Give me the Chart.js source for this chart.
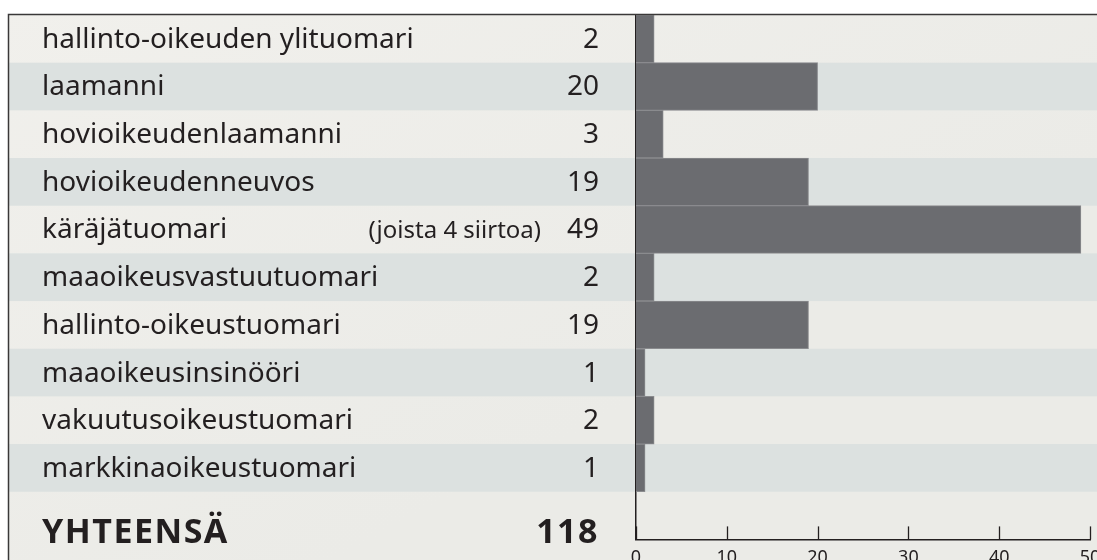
<!DOCTYPE html>
<html>
<head>
<meta charset="utf-8">
<script src="https://cdn.jsdelivr.net/npm/chart.js@4.4.1/dist/chart.umd.min.js"></script>
<style>
  html, body { margin: 0; padding: 0; background: #ffffff; overflow: hidden; }
  #wrap { position: relative; width: 1097px; height: 560px; overflow: hidden; }
  canvas { display: block; }
</style>
</head>
<body>
<div id="wrap"><canvas id="judges-chart" width="1110" height="577"></canvas></div>
<script>
const categories = [
    'hallinto-oikeuden ylituomari',
    'laamanni',
    'hovioikeudenlaamanni',
    'hovioikeudenneuvos',
    'käräjätuomari',
    'maaoikeusvastuutuomari',
    'hallinto-oikeustuomari',
    'maaoikeusinsinööri',
    'vakuutusoikeustuomari',
    'markkinaoikeustuomari'
];
const counts = [2, 20, 3, 19, 49, 2, 19, 1, 2, 1];
const notes = ['', '', '', '', '(joista 4 siirtoa)', '', '', '', '', ''];
const totalLabel = 'YHTEENSÄ';
const totalCount = 118;
const xTicks = [0, 10, 20, 30, 40, 50];

const FONT = '"Noto Sans", "Open Sans", sans-serif';
const INK = '#231f20';
const canvas = document.getElementById('judges-chart');

// background, frame and alternating row stripes, plus the table on the left
const tablePlugin = {
    id: 'tablePlugin',
    beforeDraw(chart) {
        const { ctx, scales: { y } } = chart;
        const W = chart.width, H = chart.height;
        ctx.save();
        const bg = ctx.createLinearGradient(0, 0, 300, H);
        bg.addColorStop(0, '#f1f0ec');
        bg.addColorStop(1, '#ebebe7');
        ctx.fillStyle = bg;
        ctx.fillRect(9, 15, W - 9, H - 15);

        const rowH = (y.bottom - y.top) / chart.data.labels.length;
        ctx.fillStyle = '#dce1e0';
        categories.forEach((c, i) => {
            if (i % 2 === 1) {
                const cy = y.getPixelForValue(i);
                ctx.fillRect(9, cy - rowH / 2, W - 9, rowH);
            }
        });
        ctx.restore();
    },
    afterDraw(chart) {
        const { ctx, scales: { x, y } } = chart;
        ctx.save();
        // frame
        ctx.strokeStyle = '#3a3838';
        ctx.lineWidth = 1.5;
        ctx.beginPath();
        ctx.moveTo(8.5, chart.height);
        ctx.lineTo(8.5, 14.5);
        ctx.lineTo(chart.width, 14.5);
        ctx.stroke();

        // upward tick marks on the x axis
        ctx.strokeStyle = INK;
        ctx.lineWidth = 1.3;
        x.ticks.forEach(t => {
            const px = Math.round(x.getPixelForValue(t.value)) + 0.5;
            ctx.beginPath();
            ctx.moveTo(px, x.top);
            ctx.lineTo(px, x.top - 13);
            ctx.stroke();
        });

        // table text
        ctx.fillStyle = INK;
        ctx.textBaseline = 'middle';
        categories.forEach((c, i) => {
            const cy = y.getPixelForValue(i) + 1;
            ctx.font = '28px ' + FONT;
            ctx.textAlign = 'left';
            ctx.fillText(c, 42, cy);
            ctx.textAlign = 'right';
            ctx.fillText(String(counts[i]), 599, cy);
            if (notes[i]) {
                ctx.font = '24px ' + FONT;
                ctx.fillText(notes[i], 541, cy + 1);
            }
        });
        const ty = y.getPixelForValue(categories.length) + 18;
        ctx.font = 'bold 34px ' + FONT;
        ctx.letterSpacing = '1.5px';
        ctx.textAlign = 'left';
        ctx.fillText(totalLabel, 42, ty);
        ctx.textAlign = 'right';
        ctx.fillText(String(totalCount), 599, ty);
        ctx.restore();
    }
};

new Chart(canvas, {
    type: 'bar',
    data: {
        labels: [...categories, totalLabel],
        datasets: [{
            data: [...counts, null],
            backgroundColor: '#6b6c70',
            borderColor: '#8a8b8e',
            borderWidth: 1,
            borderSkipped: 'start',
            barPercentage: 1,
            categoryPercentage: 1
        }]
    },
    options: {
        responsive: false,
        animation: false,
        indexAxis: 'y',
        layout: { padding: { left: 636, right: 20, top: 15, bottom: 0 } },
        plugins: {
            legend: { display: false },
            tooltip: { enabled: false }
        },
        scales: {
            x: {
                min: 0,
                max: 50,
                afterBuildTicks: axis => { axis.ticks = xTicks.map(v => ({ value: v })); },
                grid: { display: false, drawTicks: false },
                border: { display: true, color: INK, width: 1.5 },
                ticks: {
                    padding: 8,
                    color: INK,
                    font: { family: FONT, size: 18 },
                    maxRotation: 0
                }
            },
            y: {
                grid: { display: false, drawTicks: false },
                border: { display: true, color: INK, width: 1.5 },
                ticks: { display: false }
            }
        }
    },
    plugins: [tablePlugin]
});
</script>
</body>
</html>
